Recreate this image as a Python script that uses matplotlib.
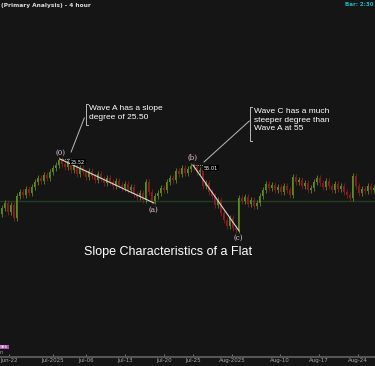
import matplotlib
matplotlib.use("Agg")
import matplotlib.pyplot as plt
import numpy as np

# close of each 4h bar (chart level units)
closes = [158, 163, 154, 161, 148, 170, 174, 171, 177, 173,
          179, 184, 188, 185, 191, 188, 194, 198, 201, 206,
          202, 199, 205, 196, 200, 192, 198, 194, 189, 195,
          190, 186, 192, 187, 183, 188, 184, 180, 185, 181,
          178, 182, 176, 179, 172, 169, 173, 166, 184, 174,
          165, 170, 173, 178, 176, 184, 188, 186, 195, 192,
          198, 193, 197, 200, 199, 194, 196, 180, 183, 174,
          170, 161, 166, 153, 146, 140, 148, 138, 136, 168,
          165, 169, 162, 166, 160, 163, 170, 176, 182, 178,
          181, 176, 179, 174, 180, 176, 171, 189, 184, 186,
          180, 183, 176, 178, 184, 188, 183, 179, 185, 180,
          176, 182, 177, 180, 174, 171, 168, 190, 180, 173,
          177, 175, 180, 176, 178]
first_open = 152
support_level = 165

tick_pos = [2.5, 17.2, 28.2, 41.2, 54.2, 63.8, 76.8, 92.8, 105.8, 118.8]
tick_labels = ["Jun-22", "Jul-2025", "Jul-06", "Jul-13", "Jul-20", "Jul-25",
               "Aug-2025", "Aug-10", "Aug-17", "Aug-24"]

# wave points (bar, level)
wave_a = [(19.5, 207), (50.8, 163)]
wave_c = [(63.8, 201), (79.2, 135)]
wave_labels = ["(0)", "(a)", "(b)", "(c)"]
wave_label_pos = [(19.5, 213), (50.6, 156), (63.8, 208), (79.0, 128)]
angle_a = "25.52"
angle_c = "55.01"

bg = "#151515"
green = "#5f8c1f"
red = "#8e1c1c"

fig = plt.figure(figsize=(3.75, 3.66), dpi=100, facecolor=bg)
ax = fig.add_axes([0, 9 / 366, 1, 357 / 366])
ax.set_facecolor(bg)

n = len(closes)
x = np.arange(n)
opens = np.array([first_open] + closes[:-1])
closes_a = np.array(closes)
cols = [green if c >= o else red for o, c in zip(opens, closes_a)]
lo = np.minimum(opens, closes_a)
hi = np.maximum(opens, closes_a)

ax.vlines(x, lo - 3, hi + 3, colors=cols, lw=0.6, zorder=2)
ax.bar(x, np.maximum(hi - lo, 0.8), bottom=lo, width=0.65, color=cols, zorder=3)

ax.axhline(support_level, color="#1d3f1d", lw=1.0, zorder=1)

# slope lines
for seg, ang in [(wave_a, angle_a), (wave_c, angle_c)]:
    (x0, y0), (x1, y1) = seg
    ax.plot([x0, x1], [y0, y1], color="#d8d8d8", lw=0.8, zorder=4)
    ax.plot([x0, x0 + 3.5], [y0, y0], color="#cccccc", lw=0.6, ls=":", zorder=4)
    ax.text(x0 + 3.7, y0 - 3, ang, color="white", fontsize=3.6,
            ha="left", va="center", zorder=5,
            bbox=dict(boxstyle="square,pad=0.15", fc="black", ec="none"))

for lab, (lx, ly) in zip(wave_labels, wave_label_pos):
    ax.text(lx, ly, lab, color="#e8c8d8", fontsize=5, family="DejaVu Serif",
            ha="center", va="center", zorder=5)

# callouts
ax.plot([23.2, 27.6], [214, 248], color="#bbbbbb", lw=0.7)
ax.plot([28.9, 28.2, 28.2, 28.9], [262, 262, 241, 241], color="#bbbbbb", lw=0.7)
ax.text(29.3, 261, "Wave A has a slope\ndegree of 25.50", color="white",
        fontsize=6, family="Liberation Sans", ha="left", va="top", linespacing=1.35)

ax.plot([67.5, 82.6], [204, 245], color="#bbbbbb", lw=0.7)
ax.plot([83.5, 82.8, 82.8, 83.5], [259, 259, 225, 225], color="#bbbbbb", lw=0.7)
ax.text(84.0, 258, "Wave C has a much\nsteeper degree than\nWave A at 55", color="white",
        fontsize=6, family="Liberation Sans", ha="left", va="top", linespacing=1.35)

ax.text(55.5, 114, "Slope Characteristics of a Flat", color="white",
        fontsize=9, family="Liberation Sans", ha="center", va="center")

ax.set_xlim(-0.5, n - 0.5)
ax.set_ylim(9, 366)
for s in ["top", "right", "left"]:
    ax.spines[s].set_visible(False)
ax.spines["bottom"].set_color("#555555")
ax.spines["bottom"].set_linewidth(1.5)
ax.set_yticks([])
ax.set_xticks(tick_pos)
ax.set_xticklabels(tick_labels)
ax.tick_params(axis="x", direction="in", length=2, width=0.6, color="#888888",
               labelsize=4, labelcolor="#aaaaaa", pad=1)

fig.text(0.002, 0.986, "(Primary Analysis) - 4 hour", color="#dddddd",
         fontsize=4.2, fontweight="bold", ha="left", va="center")
fig.text(0.996, 0.989, "Bar: 2:30", color="#10c0c8", fontsize=4,
         fontweight="bold", ha="right", va="center")
fig.text(0.0, 0.052, "986", color="white", fontsize=3.2, ha="left", va="center",
         bbox=dict(boxstyle="square,pad=0.1", fc="#b050b0", ec="none"))
fig.text(0.0, 0.036, "n", color="#aaaaaa", fontsize=3.5, ha="left", va="center")

fig.savefig("out.png", dpi=100, facecolor=bg)
